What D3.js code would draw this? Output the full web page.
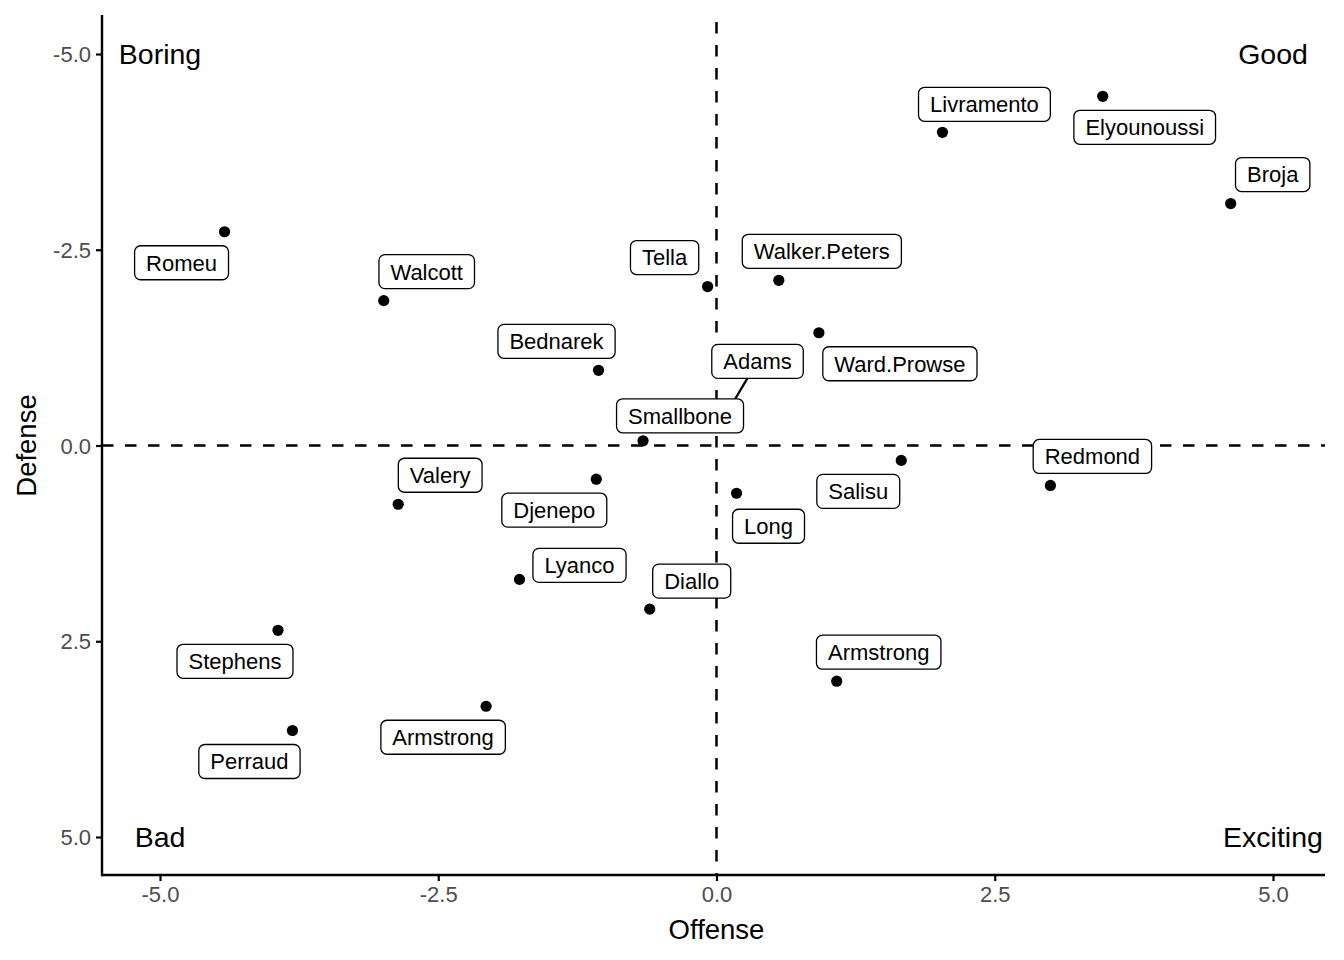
<!DOCTYPE html>
<html>
<head>
<meta charset="utf-8">
<script src="https://cdn.jsdelivr.net/npm/d3@7"></script>
<style>
  html, body { margin: 0; padding: 0; background: #fff; }
  svg { display: block; font-family: "Liberation Sans", Arial, Helvetica, sans-serif; }
</style>
</head>
<body>
<svg id="chart" width="1344" height="960"></svg>
<script>
// ---- data ----
const players = ["Romeu","Walcott","Bednarek","Tella","Walker.Peters","Ward.Prowse","Adams","Smallbone",
  "Livramento","Elyounoussi","Broja","Redmond","Salisu","Long","Djenepo","Valery","Lyanco","Diallo",
  "Armstrong","Armstrong","Stephens","Perraud"];
const offense = [-4.42,-2.99,-1.06,-0.08,0.56,0.92,0.09,-0.66,
  2.03,3.47,4.62,3.00,1.66,0.18,-1.08,-2.86,-1.77,-0.60,
  1.08,-2.07,-3.94,-3.81];
const defense = [-2.73,-1.85,-0.96,-2.03,-2.11,-1.44,-0.41,-0.06,
  -4.00,-4.46,-3.09,0.51,0.19,0.61,0.43,0.75,1.71,2.09,
  3.01,3.33,2.36,3.64];
const xTicks = [-5,-2.5,0,2.5,5];
const yTicks = [-5,-2.5,0,2.5,5];
const quadrants = [
  {text:"Boring", x:-5, y:-5},
  {text:"Good", x:5, y:-5},
  {text:"Bad", x:-5, y:5},
  {text:"Exciting", x:5, y:5}
];
// label layout (pixel nudges from each point, repel-style placement)
const labelNudge = [[-43,31],[43,-29],[-42,-29],[-43,-29],[43,-29],[81,31],[31,-52],[37,-25],
  [42,-28],[42,31],[42,-29],[42,-29],[-43,31],[32,33],[-42,31],[42,-29],[60,-14],[42,-28],
  [42,-29],[-43,31],[-43,31],[-43,31]];

// ---- layout ----
const svg = d3.select("#chart");
const panel = {left:102, right:1325, top:15, bottom:875};
const x = d3.scaleLinear().domain([-5,5]).range([160,1273]);
const y = d3.scaleLinear().domain([-5,5]).range([54,837]);
const fmt = d => d.toFixed(1);

// reference lines
svg.append("line").attr("x1", x(0)).attr("x2", x(0)).attr("y1", panel.top + 7).attr("y2", panel.bottom)
  .attr("stroke","#000").attr("stroke-width",2.5).attr("stroke-dasharray","11.5,11.5");
svg.append("line").attr("x1", panel.left).attr("x2", panel.right).attr("y1", y(0)).attr("y2", y(0))
  .attr("stroke","#000").attr("stroke-width",2.5).attr("stroke-dasharray","11.5,11.5");

// axes
const xAxis = d3.axisBottom(x).tickValues(xTicks).tickFormat(fmt).tickSize(6).tickSizeOuter(0);
const yAxis = d3.axisLeft(y).tickValues(yTicks).tickFormat(fmt).tickSize(6).tickSizeOuter(0);
const gx = svg.append("g").attr("transform",`translate(0,${panel.bottom})`).call(xAxis);
const gy = svg.append("g").attr("transform",`translate(${panel.left},0)`).call(yAxis);
[gx, gy].forEach(g => {
  g.select(".domain").remove();
  g.selectAll(".tick line").attr("stroke","#000").attr("stroke-width",2.2);
  g.selectAll(".tick text").attr("fill","#4d4d4d").attr("font-size",22)
    .attr("font-family","Liberation Sans, Arial, sans-serif");
});
gx.selectAll(".tick text").attr("dy","0.71em").attr("y",11);
gy.selectAll(".tick text").attr("x",-11).attr("dy","0.35em");
svg.append("line").attr("x1",panel.left).attr("x2",panel.right).attr("y1",panel.bottom).attr("y2",panel.bottom)
  .attr("stroke","#000").attr("stroke-width",2.4);
svg.append("line").attr("x1",panel.left).attr("x2",panel.left).attr("y1",panel.top).attr("y2",panel.bottom+1.2)
  .attr("stroke","#000").attr("stroke-width",2.4);

// axis titles
svg.append("text").attr("x", x(0)).attr("y", 939).attr("text-anchor","middle")
  .attr("font-size",27.5).attr("fill","#000").text("Offense");
svg.append("text").attr("transform",`translate(36,${y(0)}) rotate(-90)`).attr("text-anchor","middle")
  .attr("font-size",27.5).attr("fill","#000").text("Defense");

// quadrant labels
svg.selectAll("text.quad").data(quadrants).join("text").attr("class","quad")
  .attr("x", d => x(d.x)).attr("y", d => y(d.y)).attr("dy","0.35em")
  .attr("text-anchor","middle").attr("font-size",28.5).attr("fill","#000").text(d => d.text);

// points
const idx = d3.range(players.length);
svg.selectAll("circle.pt").data(idx).join("circle").attr("class","pt")
  .attr("cx", i => x(offense[i])).attr("cy", i => y(defense[i])).attr("r",5.6).attr("fill","#000");

// labels (measure text first)
const fs = 22;
const gLab = svg.append("g");
const boxes = idx.map(i => {
  const cx = x(offense[i]) + labelNudge[i][0];
  const cy = y(defense[i]) + labelNudge[i][1];
  return {i, cx, cy};
});
boxes.forEach(b => {
  const t = svg.append("text").attr("font-size",fs).text(players[b.i]);
  b.w = t.node().getComputedTextLength() + 23;
  b.h = 34;
  t.remove();
});
// segments (only when the point sits clearly away from the box)
boxes.forEach(b => {
  const px = x(offense[b.i]), py = y(defense[b.i]);
  const dxb = Math.max(Math.abs(px - b.cx) - b.w/2, 0);
  const dyb = Math.max(Math.abs(py - b.cy) - b.h/2, 0);
  if (Math.hypot(dxb, dyb) > 20) {
    const vx = px - b.cx, vy = py - b.cy;
    const s = Math.min((b.w/2)/Math.abs(vx||1e-9), (b.h/2)/Math.abs(vy||1e-9));
    const sx = b.cx + vx*s, sy = b.cy + vy*s;
    const len = Math.hypot(px - sx, py - sy);
    const ex = px - (px - sx)/len*7, ey = py - (py - sy)/len*7;
    gLab.append("line").attr("x1",sx).attr("y1",sy).attr("x2",ex).attr("y2",ey)
      .attr("stroke","#000").attr("stroke-width",2.2);
  }
});
boxes.forEach(b => {
  const g = gLab.append("g");
  g.append("rect").attr("x", b.cx - b.w/2).attr("y", b.cy - b.h/2).attr("width", b.w).attr("height", b.h)
    .attr("rx",6).attr("ry",6).attr("fill","#fff").attr("stroke","#000").attr("stroke-width",1.3);
  g.append("text").attr("x", b.cx).attr("y", b.cy).attr("dy","0.36em").attr("text-anchor","middle")
    .attr("font-size",fs).attr("fill","#000").text(players[b.i]);
});
</script>
</body>
</html>
